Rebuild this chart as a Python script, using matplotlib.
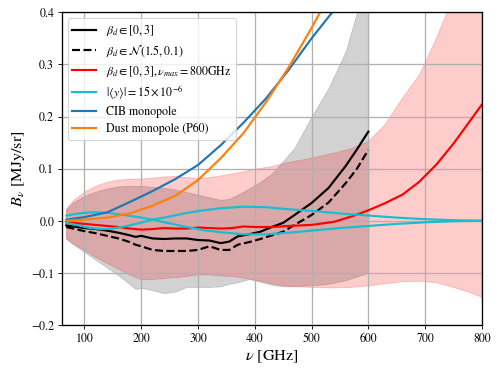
import numpy as np
import matplotlib
matplotlib.use("Agg")
import matplotlib.pyplot as plt

plt.rcParams['font.family'] = ['STIXGeneral', 'DejaVu Sans']
plt.rcParams['mathtext.fontset'] = 'stix'

# --- black lines and gray band (beta_d in [0,3]) ---
nu_b = [68, 80, 100, 120, 140, 160, 180, 190, 200, 220, 240, 260, 280, 300, 320,
        340, 355, 370, 390, 410, 430, 450, 470, 500, 530, 560, 580, 600]
black_solid = [-0.009, -0.011, -0.014, -0.016, -0.019, -0.023, -0.028, -0.031, -0.029,
               -0.034, -0.035, -0.034, -0.034, -0.037, -0.038, -0.043, -0.040, -0.030,
               -0.026, -0.021, -0.012, -0.004, 0.011, 0.034, 0.063, 0.105, 0.137, 0.171]
black_dashed = [-0.012, -0.015, -0.020, -0.024, -0.029, -0.034, -0.041, -0.046, -0.049,
                -0.056, -0.058, -0.058, -0.058, -0.056, -0.049, -0.056, -0.056, -0.046,
                -0.041, -0.035, -0.028, -0.021, -0.008, 0.011, 0.035, 0.072, 0.100, 0.136]
gray_upper = [0.022, 0.035, 0.048, 0.056, 0.062, 0.066, 0.067, 0.067, 0.067, 0.065,
              0.063, 0.060, 0.055, 0.050, 0.045, 0.040, 0.042, 0.050, 0.062, 0.075,
              0.090, 0.115, 0.140, 0.200, 0.255, 0.325, 0.400, 0.480]
gray_lower = [-0.035, -0.045, -0.060, -0.075, -0.090, -0.105, -0.122, -0.131, -0.129,
              -0.133, -0.139, -0.136, -0.127, -0.127, -0.127, -0.126, -0.121, -0.118,
              -0.112, -0.117, -0.123, -0.126, -0.125, -0.124, -0.121, -0.114, -0.107, -0.100]

# --- red line and pink band (nu_max = 800 GHz) ---
nu_r = [68, 80, 100, 120, 140, 160, 180, 200, 220, 240, 260, 280, 300, 320, 340, 360,
        380, 400, 430, 460, 500, 540, 570, 600, 630, 660, 690, 720, 750, 780, 800]
red_line = [-0.003, -0.004, -0.006, -0.008, -0.010, -0.012, -0.015, -0.017, -0.016,
            -0.014, -0.015, -0.015, -0.013, -0.014, -0.015, -0.014, -0.011, -0.012,
            -0.012, -0.010, -0.008, -0.002, 0.008, 0.020, 0.034, 0.050, 0.075, 0.108,
            0.148, 0.193, 0.223]
pink_upper = [0.022, 0.038, 0.055, 0.066, 0.074, 0.078, 0.080, 0.080, 0.082, 0.084,
              0.085, 0.083, 0.081, 0.083, 0.086, 0.090, 0.094, 0.099, 0.104, 0.112,
              0.120, 0.130, 0.138, 0.152, 0.185, 0.235, 0.280, 0.350, 0.430, 0.530, 0.600]
pink_lower = [-0.034, -0.044, -0.057, -0.070, -0.082, -0.093, -0.104, -0.113, -0.113,
              -0.111, -0.109, -0.107, -0.104, -0.104, -0.106, -0.107, -0.110, -0.114,
              -0.121, -0.126, -0.128, -0.129, -0.128, -0.125, -0.121, -0.117, -0.116,
              -0.119, -0.128, -0.138, -0.147]

# --- cyan |<y>| lines ---
nu_c = [68, 90, 110, 130, 150, 170, 195, 220, 250, 280, 310, 340, 380, 420, 460, 500,
        550, 600, 650, 700, 750, 800]
cyan_a = [0.010, 0.014, 0.016, 0.016, 0.014, 0.011, 0.007, 0.002, -0.005, -0.012,
          -0.018, -0.022, -0.026, -0.026, -0.023, -0.019, -0.014, -0.010, -0.006,
          -0.003, -0.001, 0.000]
cyan_b = [-0.004, -0.009, -0.014, -0.016, -0.015, -0.011, -0.005, 0.002, 0.008, 0.015,
          0.020, 0.024, 0.027, 0.026, 0.022, 0.019, 0.014, 0.010, 0.006, 0.003, 0.001, 0.000]

# --- monopoles ---
nu_m = [68, 100, 140, 180, 220, 260, 300, 340, 380, 420, 460, 500, 540, 580]
cib = [0.002, 0.007, 0.016, 0.036, 0.057, 0.080, 0.107, 0.145, 0.188, 0.235, 0.290,
       0.350, 0.405, 0.465]
dust = [0.000, 0.002, 0.006, 0.014, 0.029, 0.048, 0.078, 0.120, 0.168, 0.228, 0.295,
        0.370, 0.450, 0.530]

labels = [r'$\beta_d \in [0,3]$',
          r'$\beta_d \in \mathcal{N}(1.5, 0.1)$',
          r'$\beta_d \in [0,3], \nu_{max} = 800$GHz',
          r'$|\langle y\rangle| = 15\times10^{-6}$',
          'CIB monopole',
          'Dust monopole (P60)']

fig = plt.figure(figsize=(6.4, 4.8), dpi=78)
ax = fig.add_axes([0.1237, 0.131, 0.8416, 0.835])

ax.fill_between(nu_b, gray_lower, gray_upper, color='gray', alpha=0.35, lw=0.8)
ax.fill_between(nu_r, pink_lower, pink_upper, color='r', alpha=0.2, lw=0.8)

lw = 2.0
ax.plot(nu_b, black_solid, color='k', lw=lw, label=labels[0])
ax.plot(nu_b, black_dashed, color='k', lw=lw, ls='--', label=labels[1])
ax.plot(nu_r, red_line, color='r', lw=lw, label=labels[2])
ax.plot(nu_c, cyan_a, color='tab:cyan', lw=lw, label=labels[3])
ax.plot(nu_c, cyan_b, color='tab:cyan', lw=lw)
ax.plot(nu_m, cib, color='tab:blue', lw=lw, label=labels[4])
ax.plot(nu_m, dust, color='tab:orange', lw=lw, label=labels[5])

ax.set_xlim(60, 800)
ax.set_ylim(-0.2, 0.4)
ax.set_xticks([100, 200, 300, 400, 500, 600, 700, 800])
ax.set_yticks([-0.2, -0.1, 0.0, 0.1, 0.2, 0.3, 0.4])
ax.grid(True, color='#b0b0b0', lw=1.2)
ax.tick_params(labelsize=11)
for s in ax.spines.values():
    s.set_linewidth(1.2)
ax.set_xlabel(r'$\nu$ [GHz]', fontsize=15)
ax.set_ylabel(r'$B_\nu$ [MJy/sr]', fontsize=15)
ax.legend(loc='upper left', fontsize=11, labelspacing=0.4)

fig.savefig('out.png', dpi=78)
